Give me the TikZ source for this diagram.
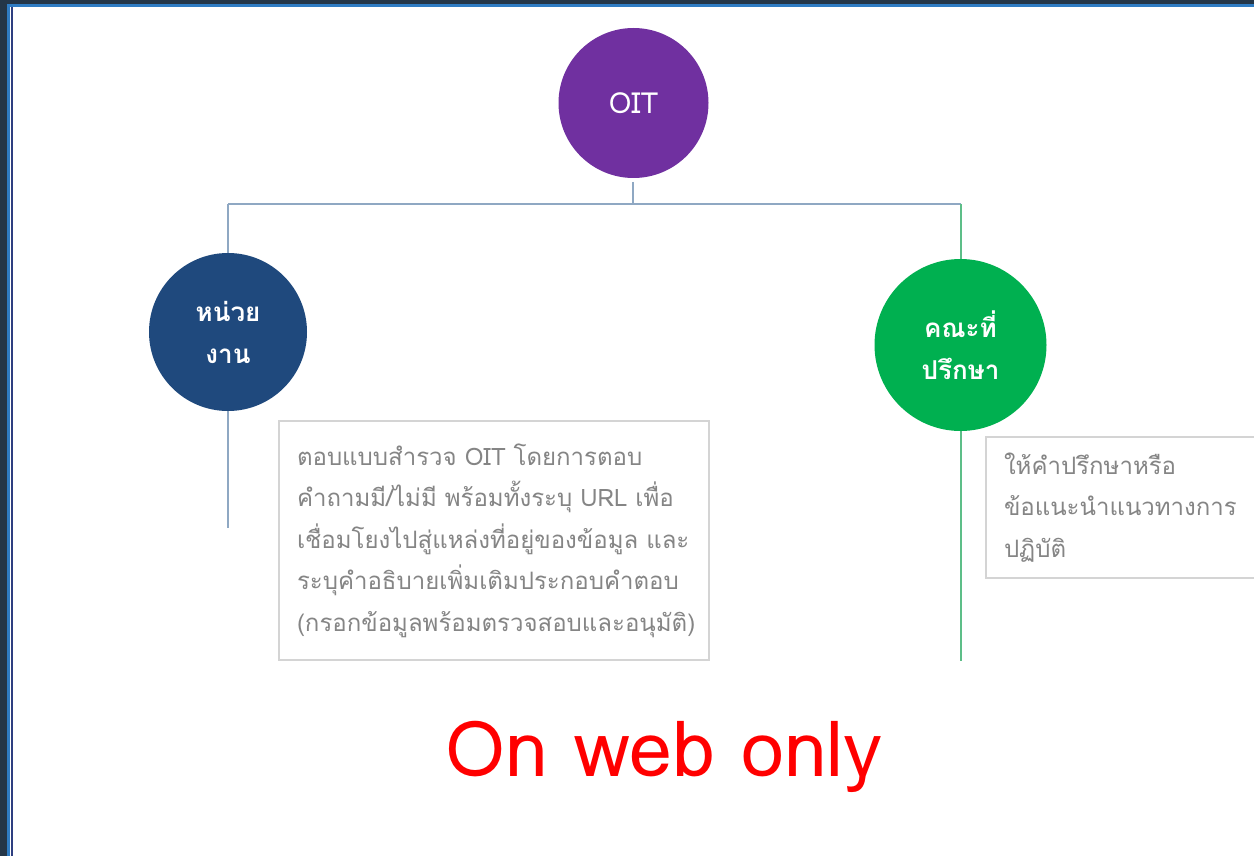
\documentclass[tikz,border=0pt]{standalone}
\usepackage{fontspec}
\newfontfamily\thaifont[Script=Thai]{Loma}
\definecolor{oitpurple}{HTML}{7030A0}
\definecolor{unitblue}{HTML}{1F497D}
\definecolor{boardgreen}{HTML}{00B050}
\definecolor{linegray}{HTML}{8FA8C3}
\definecolor{linegreen}{HTML}{5DBE88}
\definecolor{boxborder}{HTML}{D4D4D4}
\definecolor{boxtext}{HTML}{858585}
\definecolor{framedark}{HTML}{243648}
\definecolor{frameblue}{HTML}{2F7CC3}
\definecolor{framenavy}{HTML}{2E3F80}
\tikzset{
  bubble/.style={circle, inner sep=0pt, text=white, align=center, font=\thaifont\fontsize{26}{42}\selectfont\bfseries},
  notebox/.style={draw=boxborder, line width=1.2pt, fill=white, text=boxtext, align=left, inner xsep=18pt, inner ysep=0pt, font=\thaifont\fontsize{24}{41.5}\selectfont},
  conn/.style={draw=linegray, line width=2.5pt},
  conng/.style={draw=linegreen, line width=2.5pt}
}
\begin{document}
\begin{tikzpicture}[x=1pt,y=-1pt]
\useasboundingbox (0,0) rectangle (1254,856);
\fill[white] (0,0) rectangle (1254,856);
% frame
\fill[framedark] (0,0) rectangle (1254,4);
\fill[frameblue] (0,4) rectangle (1254,7);
\fill[framedark] (0,0) rectangle (7,856);
\fill[frameblue] (7,4) rectangle (10,856);
\fill[framenavy] (11,7) rectangle (12.5,856);
% coordinates
\coordinate (hub) at (633,204);
\coordinate (lbend) at (228,204);
\coordinate (rbend) at (961,204);
\coordinate (lend) at (228,528);
\coordinate (rend) at (961,661);
% connectors (drawn first, behind nodes)
\draw[conn] (633,182) -- (hub);
\draw[conn] (lbend) -- (rbend);
\draw[conn] (lbend) -- (228,332);
\draw[conn] (228,332) -- (lend);
\draw[conng] (rbend) -- (961,345);
\draw[conng] (961,345) -- (rend);
% nodes
\node[bubble, fill=oitpurple, minimum size=150pt, font=\thaifont\fontsize{29}{30}\selectfont] (oit) at (633.5,103) {\raisebox{-4pt}{OIT}};
\node[bubble, fill=unitblue, minimum size=158pt] (unit) at (228,332) {หน่วย\\งาน};
\node[bubble, fill=boardgreen, minimum size=172pt] (board) at (960.5,345) {คณะที่\\ปรึกษา};
\node[notebox, minimum width=430pt, minimum height=239pt, text width=394pt] (unitnote) at (494,540.5)
  {ตอบแบบสำรวจ OIT โดยการตอบ\\คำถามมี/ไม่มี พร้อมทั้งระบุ URL เพื่อ\\เชื่อมโยงไปสู่แหล่งที่อยู่ของข้อมูล และ\\ระบุคำอธิบายเพิ่มเติมประกอบคำตอบ\\(กรอกข้อมูลพร้อมตรวจสอบและอนุมัติ)};
\node[notebox, minimum width=290pt, minimum height=141pt, text width=254pt] (boardnote) at (1131,507.5)
  {ให้คำปรึกษาหรือ\\ข้อแนะนำแนวทางการ\\ปฏิบัติ};
\node[text=red, font=\thaifont\fontsize{77}{80}\selectfont] (web) at (664,757) {On web only};
\end{tikzpicture}
\end{document}
